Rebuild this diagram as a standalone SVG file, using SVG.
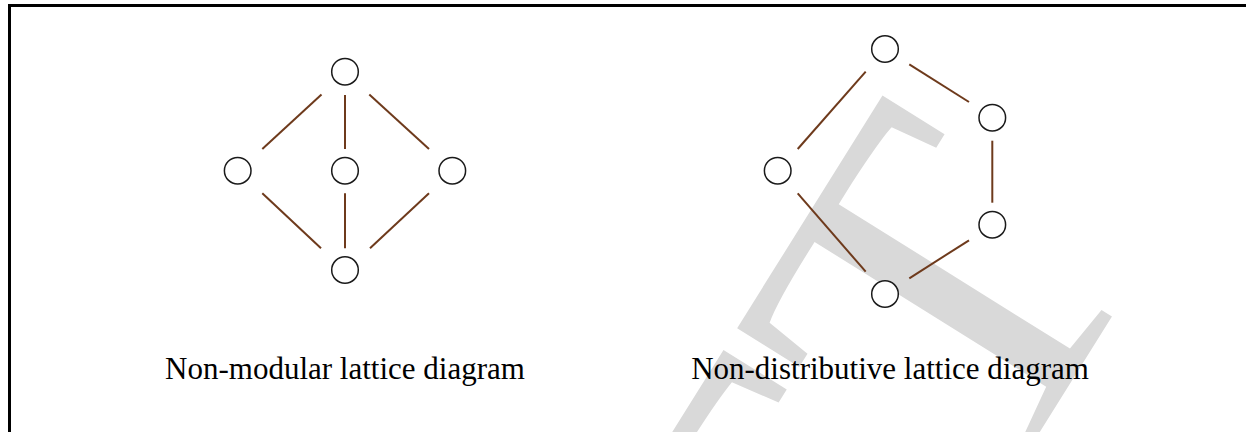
<svg xmlns="http://www.w3.org/2000/svg" width="1246" height="432" viewBox="0 0 1246 432">
  <style>
    .node { fill: #ffffff; stroke: #1a1a1a; stroke-width: 1.5; }
    .edge { stroke: #6e3a1c; stroke-width: 2; fill: none; }
    .caption { font-family: "Liberation Serif", "Times New Roman", serif; font-size: 31px; fill: #000000; text-anchor: middle; }
    .mark { font-family: "Liberation Serif", "Times New Roman", serif; font-size: 476px; fill: #d9d9d9; text-anchor: end; }
  </style>

  <rect x="0" y="0" width="1246" height="432" fill="#ffffff"/>

  <!-- background watermark lettering, rotated -->
  <g id="watermark">
    <text class="mark" transform="translate(1151,254) rotate(-58)" x="0" y="0">FT</text>
  </g>

  <!-- frame: top and left edges -->
  <path id="frame" d="M9.5,432 V5.5 H1246" fill="none" stroke="#000000" stroke-width="3"/>

  <!-- connectors -->
  <g id="connectors">
    <!-- non-modular lattice (M3) -->
    <line class="edge" x1="321.5" y1="94.5" x2="262.3" y2="149"/>
    <line class="edge" x1="345" y1="95" x2="345" y2="149"/>
    <line class="edge" x1="369.3" y1="94.5" x2="429" y2="149"/>
    <line class="edge" x1="262.3" y1="193.3" x2="321" y2="248.3"/>
    <line class="edge" x1="345" y1="193.3" x2="345" y2="248.3"/>
    <line class="edge" x1="429" y1="193.3" x2="370" y2="248.3"/>
    <!-- non-distributive lattice (N5) -->
    <line class="edge" x1="865.7" y1="71.7" x2="797.7" y2="149"/>
    <line class="edge" x1="909.3" y1="64.3" x2="969" y2="102"/>
    <line class="edge" x1="992.3" y1="140.7" x2="992.3" y2="202.7"/>
    <line class="edge" x1="797.7" y1="193.3" x2="865.7" y2="271.7"/>
    <line class="edge" x1="969" y1="240.3" x2="909.3" y2="278.3"/>
  </g>

  <!-- non-modular lattice nodes -->
  <g id="m3-top"><circle class="node" cx="345" cy="71.7" r="13.3"/></g>
  <g id="m3-left"><circle class="node" cx="237.7" cy="170.7" r="13.3"/></g>
  <g id="m3-middle"><circle class="node" cx="345" cy="170.7" r="13.3"/></g>
  <g id="m3-right"><circle class="node" cx="452.3" cy="170.7" r="13.3"/></g>
  <g id="m3-bottom"><circle class="node" cx="345" cy="270" r="13.3"/></g>

  <!-- non-distributive lattice nodes -->
  <g id="n5-top"><circle class="node" cx="885" cy="49" r="13.3"/></g>
  <g id="n5-left"><circle class="node" cx="777.7" cy="170.7" r="13.3"/></g>
  <g id="n5-right-upper"><circle class="node" cx="992.3" cy="117.7" r="13.3"/></g>
  <g id="n5-right-lower"><circle class="node" cx="992.3" cy="224.7" r="13.3"/></g>
  <g id="n5-bottom"><circle class="node" cx="885" cy="294" r="13.3"/></g>

  <!-- captions -->
  <g id="caption-left"><text class="caption" x="345" y="379">Non-modular lattice diagram</text></g>
  <g id="caption-right"><text class="caption" x="890" y="379">Non-distributive lattice diagram</text></g>
</svg>
